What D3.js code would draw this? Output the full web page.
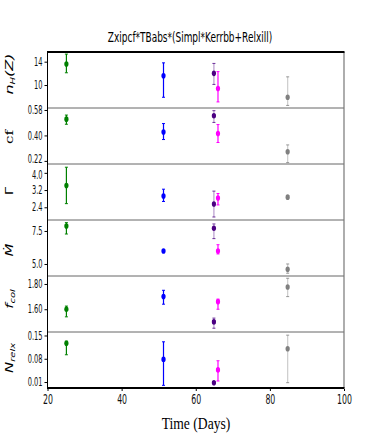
<!DOCTYPE html>
<html>
<head>
<meta charset="utf-8">
<script src="https://cdn.jsdelivr.net/npm/d3@7"></script>
<style>
  body { margin: 0; background: #fff; }
  svg { display: block; }
</style>
</head>
<body>
<div id="chart"></div>
<script>
// observation times (days) and colours of each epoch
const times = [25.1, 51.3, 64.9, 66.0, 84.8];
const colors = ["green", "blue", "indigo", "magenta", "gray"];
const barAlpha = [1, 1, 0.4, 1, 0.4];

// parameter values with lower / upper error limits
const nH = [13.6, 11.6, 12.0, 9.4, 7.9];
const nHLo = [12.1, 7.9, 10.1, 7.1, 6.5];
const nHHi = [15.3, 13.8, 13.7, 12.3, 11.4];

const cf = [0.515, 0.424, 0.539, 0.414, 0.285];
const cfLo = [0.479, 0.371, 0.492, 0.35, 0.208];
const cfHi = [0.544, 0.484, 0.575, 0.477, 0.333];

const gamma = [3.41, 2.92, 2.55, 2.83, 2.87];
const gammaLo = [2.57, 2.67, 1.95, 2.51, 2.80];
const gammaHi = [4.26, 3.24, 3.15, 3.04, 2.94];

const mdot = [7.88, 5.98, 7.7, 5.98, 4.6];
const mdotLo = [7.27, 5.92, 6.92, 5.76, 4.3];
const mdotHi = [8.13, 6.04, 8.03, 6.46, 5.0];

const fcol = [1.60, 1.70, 1.50, 1.66, 1.776];
const fcolLo = [1.54, 1.64, 1.45, 1.60, 1.70];
const fcolHi = [1.625, 1.75, 1.53, 1.68, 1.845];

const nrelx = [0.1265, 0.078, 0.008, 0.0465, 0.110];
const nrelxLo = [0.092, 0.0, 0.005, 0.013, 0.008];
const nrelxHi = [0.133, 0.131, 0.011, 0.074, 0.151];

// tick labels
const xTicks = [20, 40, 60, 80, 100];
const nHTicks = ["10", "14"];
const cfTicks = ["0.22", "0.40", "0.58"];
const gammaTicks = ["2.4", "3.2", "4.0"];
const mdotTicks = ["5.0", "7.5"];
const fcolTicks = ["1.60", "1.80"];
const nrelxTicks = ["0.01", "0.08", "0.15"];

const title = "Zxipcf*TBabs*(Simpl*Kerrbb+Relxill)";
const xTitle = "Time (Days)";

const panels = [
  { v: nH, lo: nHLo, hi: nHHi, dom: [6.06, 15.66], ticks: nHTicks, ly: 74 },
  { v: cf, lo: cfLo, hi: cfHi, dom: [0.198, 0.594], ticks: cfTicks, ly: 137 },
  { v: gamma, lo: gammaLo, hi: gammaHi, dom: [1.81, 4.41], ticks: gammaTicks, ly: 191 },
  { v: mdot, lo: mdotLo, hi: mdotHi, dom: [4.09, 8.33], ticks: mdotTicks, ly: 250 },
  { v: fcol, lo: fcolLo, hi: fcolHi, dom: [1.42, 1.863], ticks: fcolTicks, ly: 299 },
  { v: nrelx, lo: nrelxLo, hi: nrelxHi, dom: [-0.008, 0.1605], ticks: nrelxTicks, ly: 358 }
];

const width = 382, height = 436;
const mLeft = 47.5, mRight = 344, mTop = 52, mBottom = 388;
const ph = (mBottom - mTop) / panels.length;

const svg = d3.select("#chart").append("svg")
  .attr("width", width).attr("height", height);

const x = d3.scaleLinear().domain([20, 100]).range([mLeft, mRight]);

// squeeze text horizontally like the narrow fonts of the original
const squeeze = (sel, k) => sel.each(function () {
  const w = this.getComputedTextLength();
  d3.select(this).attr("textLength", w * k).attr("lengthAdjust", "spacingAndGlyphs");
});

svg.append("text")
  .attr("x", 190).attr("y", 42)
  .attr("text-anchor", "middle")
  .style("font-family", "DejaVu Sans").style("font-size", "14px")
  .text(title)
  .call(squeeze, 0.64);

panels.forEach((p, i) => {
  const y0 = mTop + i * ph, y1 = y0 + ph;
  const y = d3.scaleLinear().domain(p.dom).range([y1, y0]);
  const g = svg.append("g");

  g.append("clipPath").attr("id", "clip" + i)
    .append("rect").attr("x", mLeft).attr("y", y0).attr("width", mRight - mLeft).attr("height", ph);

  // y axis
  const ax = g.append("g")
    .attr("transform", `translate(${mLeft},0)`)
    .call(d3.axisLeft(y).tickValues(p.ticks.map(Number)).tickFormat((d, j) => p.ticks[j]).tickSize(3).tickPadding(2));
  ax.select(".domain").remove();
  ax.selectAll("line").attr("stroke", "#000");
  ax.selectAll("text")
    .style("font-family", "DejaVu Sans").style("font-size", "11.5px").attr("fill", "#111")
    .call(squeeze, 0.58);
  // the two crowded labels at the cf / Gamma border
  if (i === 1) ax.selectAll("text").filter((d, j) => j === 0).attr("dy", "0.12em");
  if (i === 2) ax.selectAll("text").filter((d, j) => j === 2).attr("dy", "0.52em");

  const pts = g.append("g").attr("clip-path", `url(#clip${i})`);
  const idx = d3.range(times.length);

  // error bars
  pts.selectAll(".err").data(idx).join("line")
    .attr("x1", (j) => x(times[j])).attr("x2", (j) => x(times[j]))
    .attr("y1", (j) => y(p.lo[j])).attr("y2", (j) => y(p.hi[j]))
    .attr("stroke", (j) => colors[j]).attr("stroke-opacity", (j) => barAlpha[j])
    .attr("stroke-width", 1.2);
  ["lo", "hi"].forEach((k) => {
    pts.selectAll(".cap" + k).data(idx).join("line")
      .attr("x1", (j) => x(times[j]) - 1.5).attr("x2", (j) => x(times[j]) + 1.5)
      .attr("y1", (j) => y(p[k][j])).attr("y2", (j) => y(p[k][j]))
      .attr("stroke", (j) => colors[j]).attr("stroke-opacity", (j) => barAlpha[j] < 1 ? 0.8 : 1)
      .attr("stroke-width", 1);
  });
  pts.selectAll(".pt").data(idx).join("ellipse")
    .attr("cx", (j) => x(times[j])).attr("cy", (j) => y(p.v[j]))
    .attr("rx", 2.1).attr("ry", 2.8)
    .attr("fill", (j) => colors[j]);

  // separator between panels
  if (i > 0) {
    g.append("line").attr("x1", mLeft).attr("x2", mRight).attr("y1", y0).attr("y2", y0)
      .attr("stroke", "#666").attr("stroke-width", 1);
  }
});

// frame
svg.append("line").attr("x1", mLeft).attr("x2", mLeft).attr("y1", mTop).attr("y2", mBottom)
  .attr("stroke", "#000").attr("stroke-width", 1);
svg.append("line").attr("x1", mRight).attr("x2", mRight).attr("y1", mTop).attr("y2", mBottom)
  .attr("stroke", "#777").attr("stroke-width", 1.2);
svg.append("line").attr("x1", mLeft - 0.5).attr("x2", mRight + 0.5).attr("y1", mTop).attr("y2", mTop)
  .attr("stroke", "#000").attr("stroke-width", 2.2);
svg.append("line").attr("x1", mLeft - 0.5).attr("x2", mRight + 0.5).attr("y1", mBottom).attr("y2", mBottom)
  .attr("stroke", "#000").attr("stroke-width", 2.2);

// x axis
const xa = svg.append("g")
  .attr("transform", `translate(0,${mBottom + 1})`)
  .call(d3.axisBottom(x).tickValues(xTicks).tickSize(2).tickPadding(3));
xa.select(".domain").remove();
xa.selectAll("text")
  .style("font-family", "DejaVu Sans").style("font-size", "13.5px").attr("fill", "#111")
  .call(squeeze, 0.58);

svg.append("text")
  .attr("x", 196).attr("y", 429)
  .attr("text-anchor", "middle")
  .style("font-family", "Liberation Serif").style("font-size", "17px")
  .text(xTitle)
  .call(squeeze, 0.8);

// y labels (rotated, squeezed horizontally)
const labelX = 13;
const yl = svg.append("g")
  .style("font-family", "DejaVu Sans").style("font-size", "15px");
const lab = (p) => yl.append("text")
  .attr("transform", `translate(${labelX},${p.ly}) scale(0.7,1) rotate(-90)`)
  .attr("text-anchor", "middle");

let t = lab(panels[0]).style("font-style", "italic").style("font-size", "16px");
t.append("tspan").text("n");
t.append("tspan").attr("dy", 3).style("font-size", "10px").text("H");
t.append("tspan").attr("dy", -3).text("(Z)");

lab(panels[1]).style("font-family", "DejaVu Serif").text("cf");
lab(panels[2]).text("Γ");
lab(panels[3]).style("font-style", "italic").text("M\u0307");

t = lab(panels[4]).style("font-style", "italic");
t.append("tspan").text("f");
t.append("tspan").attr("dy", 3).style("font-size", "10px").text("col");

t = lab(panels[5]).style("font-style", "italic");
t.append("tspan").text("N");
t.append("tspan").attr("dy", 3).style("font-size", "10px").text("relx");
</script>
</body>
</html>
